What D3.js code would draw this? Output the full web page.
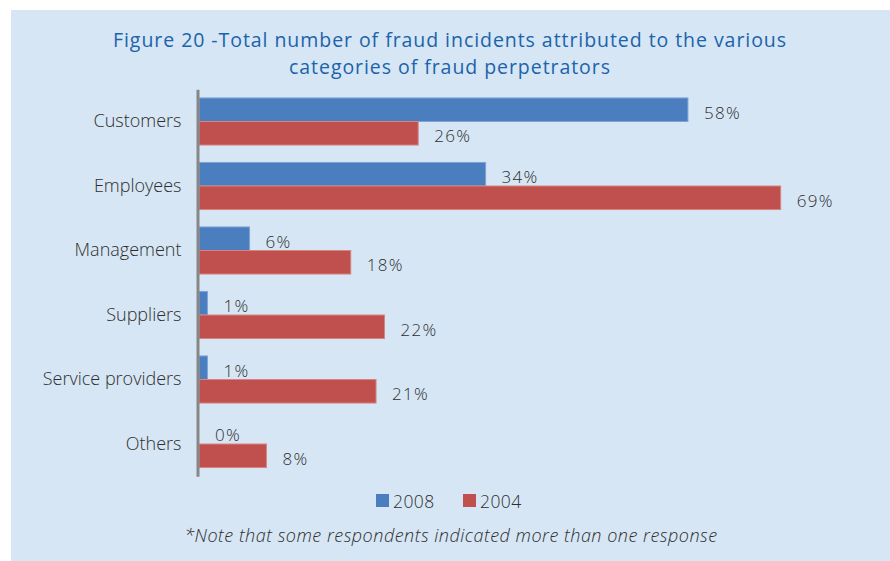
<!DOCTYPE html>
<html>
<head>
<meta charset="utf-8">
<script src="https://cdn.jsdelivr.net/npm/d3@7"></script>
<style>
  html, body { margin: 0; padding: 0; background: #ffffff; }
  svg { display: block; }
  text { font-family: "Open Sans", "Noto Sans", sans-serif; fill: #2e2e2e; font-weight: 300; }
  .title { fill: #1b63aa; font-weight: 400; }
</style>
</head>
<body>
<svg id="chart" width="890" height="561"></svg>
<script>
// Perpetrator categories, top to bottom
const categories = ["Customers", "Employees", "Management", "Suppliers", "Service providers", "Others"];
// Share of fraud incidents (%) per survey year
const series = ["2008", "2004"];
const values2008 = [58, 34, 6, 1, 1, 0];
const values2004 = [26, 69, 18, 22, 21, 8];
const seriesColors = ["#4a7ebf", "#c0504d"];
const titleLines = [
  "Figure 20 -Total number of fraud incidents attributed to the various",
  "categories of fraud perpetrators"
];
const footnote = "*Note that some respondents indicated more than one response";

const rows = categories.map((c, i) => ({
  category: c,
  entries: [
    { series: series[0], value: values2008[i] },
    { series: series[1], value: values2004[i] }
  ]
}));

const svg = d3.select("#chart");

// light blue panel behind the figure
svg.append("rect")
  .attr("x", 11).attr("y", 10)
  .attr("width", 879).attr("height", 551)
  .attr("fill", "#d6e6f5");

// title; letter spacing widened so the first line spans ~674px
const titleText = svg.append("g").selectAll("text")
  .data(titleLines)
  .join("text")
  .attr("class", "title")
  .attr("x", 450)
  .attr("y", (d, i) => 47 + i * 26.5)
  .attr("text-anchor", "middle")
  .style("font-size", "19.5px")
  .text(d => d);
const firstWidth = titleText.node().getComputedTextLength();
const spacing = Math.max(0, (674 - firstWidth) / titleLines[0].length);
titleText.style("letter-spacing", spacing.toFixed(3) + "px");

const x = d3.scaleLinear().domain([0, 80]).range([199, 199 + 8.43 * 80]);
const y = d3.scaleBand()
  .domain(categories)
  .range([89.25, 476.25])
  .paddingInner(0.27)
  .paddingOuter(0.135);
const ySub = d3.scaleBand().domain(series).range([0, y.bandwidth()]);
const color = d3.scaleOrdinal().domain(series).range(seriesColors);

// bars
const groups = svg.append("g").selectAll("g")
  .data(rows)
  .join("g")
  .attr("transform", d => `translate(0,${y(d.category)})`);

groups.selectAll("rect")
  .data(d => d.entries)
  .join("rect")
  .attr("x", x(0))
  .attr("y", d => ySub(d.series))
  .attr("width", d => x(d.value) - x(0))
  .attr("height", ySub.bandwidth())
  .attr("fill", d => color(d.series))
  .attr("stroke", d => d.series === "2008" ? "#7ea4d6" : "#d98482")
  .attr("stroke-width", d => d.value > 0 ? 1 : 0);

// value labels
groups.selectAll("text")
  .data(d => d.entries)
  .join("text")
  .attr("x", d => x(d.value) + 16)
  .attr("y", d => ySub(d.series) + ySub.bandwidth() / 2 + 2.5)
  .attr("dominant-baseline", "central")
  .style("font-size", "17px")
  .style("letter-spacing", "1.3px")
  .text(d => d.value + "%");

// category axis
const yAxis = svg.append("g")
  .attr("transform", `translate(${x(0) - 1.5},0)`)
  .call(d3.axisLeft(y).tickSize(0).tickPadding(16));
yAxis.select(".domain")
  .attr("stroke", "#878787")
  .attr("stroke-width", 3);
yAxis.selectAll(".tick text")
  .style("font-family", "\"Open Sans\", \"Noto Sans\", sans-serif")
  .style("font-weight", 300)
  .style("font-size", "18px")
  .attr("fill", "#2e2e2e");

// legend
const legend = svg.append("g").selectAll("g")
  .data(series)
  .join("g")
  .attr("transform", (d, i) => `translate(${376 + i * 87},494)`);
legend.append("rect")
  .attr("width", 13).attr("height", 13)
  .attr("fill", d => color(d));
legend.append("text")
  .attr("x", 17)
  .attr("y", 7)
  .attr("dominant-baseline", "central")
  .style("font-size", "17.5px")
  .style("letter-spacing", "0.4px")
  .text(d => d);

// footnote
svg.append("text")
  .attr("x", 451)
  .attr("y", 542)
  .attr("text-anchor", "middle")
  .style("font-size", "18px")
  .style("font-style", "italic")
  .style("letter-spacing", "0.5px")
  .text(footnote);
</script>
</body>
</html>
